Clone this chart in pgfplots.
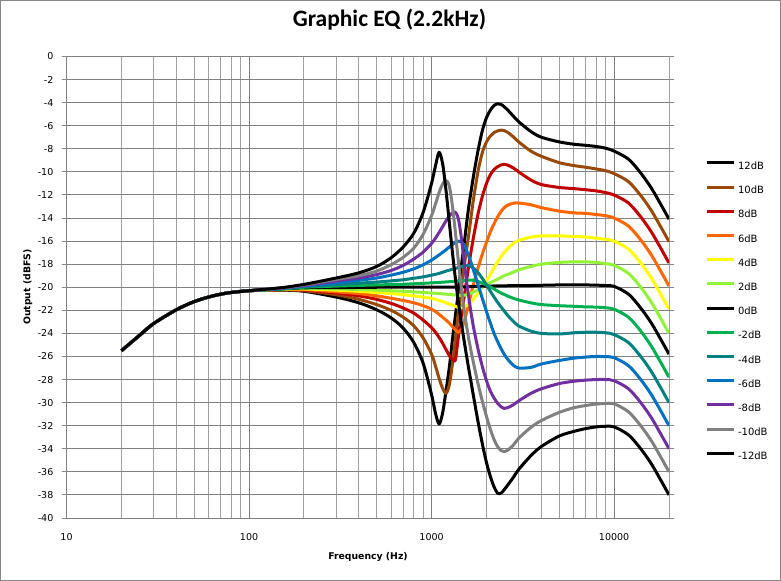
\documentclass[border=0pt]{standalone}
\usepackage{fontspec}
\setmainfont{DejaVu Sans}
\newfontfamily\titlefont{Carlito}
\usepackage{pgfplots}
\usepackage{pgfplotstable}
\pgfplotsset{compat=1.18}
\definecolor{framegray}{RGB}{134,134,134}
\definecolor{gridmajor}{RGB}{128,128,128}
\definecolor{gridminor}{RGB}{160,160,160}
\definecolor{cbrown}{HTML}{984807}
\definecolor{cred}{HTML}{C00000}
\definecolor{corange}{HTML}{FF6600}
\definecolor{cyellow}{HTML}{FFFF00}
\definecolor{clime}{RGB}{146,242,55}
\definecolor{cgreen}{HTML}{00B050}
\definecolor{cteal}{HTML}{008080}
\definecolor{cblue}{HTML}{0070C0}
\definecolor{cpurple}{HTML}{7030A0}
\definecolor{cgray}{HTML}{808080}
\pgfplotstableread{
f p12 p10 p8 p6 p4 p2 z0 m2 m4 m6 m8 m10 m12
20 -25.5 -25.5 -25.5 -25.5 -25.5 -25.5 -25.5 -25.5 -25.5 -25.5 -25.5 -25.5 -25.5
25 -24.2 -24.2 -24.2 -24.2 -24.2 -24.2 -24.2 -24.2 -24.2 -24.2 -24.2 -24.2 -24.2
30 -23.15 -23.15 -23.15 -23.15 -23.15 -23.15 -23.15 -23.15 -23.15 -23.15 -23.15 -23.15 -23.15
40 -21.95 -21.95 -21.95 -21.95 -21.95 -21.95 -21.95 -21.95 -21.95 -21.95 -21.95 -21.95 -21.95
50 -21.25 -21.25 -21.25 -21.25 -21.25 -21.25 -21.25 -21.25 -21.25 -21.25 -21.25 -21.25 -21.25
60 -20.85 -20.85 -20.85 -20.85 -20.85 -20.85 -20.85 -20.85 -20.85 -20.85 -20.85 -20.85 -20.85
70 -20.6 -20.6 -20.6 -20.6 -20.6 -20.6 -20.6 -20.6 -20.6 -20.6 -20.6 -20.6 -20.6
80 -20.45 -20.45 -20.45 -20.45 -20.45 -20.45 -20.45 -20.45 -20.45 -20.45 -20.45 -20.45 -20.45
100 -20.3 -20.3 -20.3 -20.3 -20.3 -20.3 -20.3 -20.3 -20.3 -20.3 -20.3 -20.3 -20.3
150 -20.25 -20.23 -20.21 -20.19 -20.17 -20.16 -20.15 -20.14 -20.12 -20.10 -20.08 -20.06 -20.04
200 -20.35 -20.30 -20.25 -20.20 -20.15 -20.10 -20.05 -20.00 -19.95 -19.90 -19.85 -19.80 -19.75
300 -20.85 -20.65 -20.50 -20.40 -20.25 -20.15 -20.03 -19.90 -19.78 -19.62 -19.46 -19.32 -19.20
400 -21.35 -21.05 -20.75 -20.55 -20.35 -20.20 -20.02 -19.84 -19.65 -19.40 -19.20 -19.00 -18.75
500 -21.95 -21.50 -21.05 -20.75 -20.45 -20.25 -20.00 -19.80 -19.55 -19.20 -18.90 -18.60 -18.20
600 -22.65 -22.00 -21.40 -20.95 -20.55 -20.30 -20.00 -19.77 -19.45 -18.95 -18.55 -18.05 -17.45
700 -23.55 -22.60 -21.80 -21.15 -20.65 -20.35 -20.00 -19.74 -19.35 -18.70 -18.10 -17.40 -16.50
800 -24.80 -23.35 -22.25 -21.35 -20.75 -20.40 -20.00 -19.70 -19.22 -18.40 -17.55 -16.60 -15.30
900 -26.60 -24.40 -22.85 -21.60 -20.85 -20.45 -20.00 -19.66 -19.10 -18.05 -16.95 -15.40 -13.50
1000 -29.30 -25.80 -23.50 -21.90 -20.95 -20.50 -20.00 -19.62 -18.95 -17.65 -16.20 -13.80 -11.00
1050 -30.90 -26.80 -23.90 -22.10 -21.05 -20.52 -20.00 -19.60 -18.88 -17.42 -15.75 -12.80 -9.50
1100 -31.85 -27.90 -24.35 -22.35 -21.15 -20.55 -20.00 -19.58 -18.80 -17.20 -15.25 -11.80 -8.30
1150 -30.90 -28.75 -24.85 -22.60 -21.25 -20.57 -20.00 -19.56 -18.70 -16.97 -14.75 -11.05 -9.30
1200 -29.00 -29.20 -25.40 -22.85 -21.35 -20.60 -20.00 -19.54 -18.60 -16.75 -14.25 -10.75 -11.60
1250 -27.00 -28.50 -25.90 -23.10 -21.45 -20.62 -20.00 -19.52 -18.52 -16.52 -13.85 -11.20 -14.30
1300 -24.60 -26.70 -26.25 -23.40 -21.55 -20.65 -20.00 -19.50 -18.45 -16.30 -13.55 -12.90 -16.90
1350 -22.50 -24.50 -26.30 -23.70 -21.65 -20.67 -20.00 -19.47 -18.37 -16.10 -13.50 -15.20 -19.20
1400 -20.50 -22.30 -24.40 -23.90 -21.75 -20.70 -20.00 -19.45 -18.30 -16.00 -14.00 -17.60 -21.20
1450 -18.40 -20.30 -22.70 -23.70 -21.80 -20.70 -20.00 -19.42 -18.22 -16.05 -15.50 -19.80 -22.90
1500 -16.60 -18.50 -21.10 -23.10 -21.75 -20.70 -19.97 -19.40 -18.15 -16.30 -17.40 -21.70 -24.40
1550 -14.70 -16.90 -19.60 -22.30 -21.60 -20.65 -19.96 -19.39 -18.10 -16.75 -19.30 -23.20 -25.80
1600 -13.00 -15.40 -18.10 -21.40 -21.45 -20.60 -19.95 -19.38 -18.12 -17.30 -20.90 -24.50 -27.10
1650 -11.60 -13.80 -16.80 -20.50 -21.25 -20.50 -19.94 -19.38 -18.20 -17.90 -22.30 -25.60 -28.30
1700 -10.30 -12.30 -15.60 -19.70 -21.00 -20.40 -19.93 -19.40 -18.35 -18.55 -23.50 -26.60 -29.50
1800 -8.10 -9.90 -13.60 -18.30 -20.50 -20.20 -19.92 -19.50 -18.75 -19.80 -25.40 -28.40 -31.70
1900 -6.40 -8.30 -12.10 -17.10 -19.90 -19.95 -19.91 -19.65 -19.25 -21.00 -26.90 -29.90 -33.60
2000 -5.30 -7.40 -11.00 -16.10 -19.40 -19.75 -19.90 -19.80 -19.80 -22.10 -28.10 -31.20 -35.20
2100 -4.65 -6.90 -10.25 -15.20 -18.90 -19.60 -19.90 -19.98 -20.35 -23.10 -29.00 -32.30 -36.40
2200 -4.25 -6.60 -9.80 -14.50 -18.30 -19.45 -19.89 -20.15 -20.85 -24.00 -29.60 -33.20 -37.30
2300 -4.10 -6.45 -9.55 -13.90 -17.80 -19.30 -19.89 -20.33 -21.30 -24.70 -30.05 -33.80 -37.85
2400 -4.15 -6.38 -9.40 -13.45 -17.35 -19.15 -19.88 -20.50 -21.70 -25.30 -30.35 -34.15 -37.85
2500 -4.35 -6.42 -9.35 -13.10 -17.00 -19.00 -19.88 -20.62 -22.05 -25.80 -30.50 -34.25 -37.55
2600 -4.60 -6.55 -9.40 -12.90 -16.70 -18.90 -19.87 -20.75 -22.40 -26.20 -30.45 -34.15 -37.20
2800 -5.15 -6.95 -9.65 -12.72 -16.20 -18.70 -19.87 -20.95 -22.95 -26.75 -30.20 -33.70 -36.50
3000 -5.65 -7.40 -10.00 -12.70 -15.95 -18.50 -19.86 -21.10 -23.35 -27.00 -29.85 -33.10 -35.80
3500 -6.50 -8.20 -10.70 -12.85 -15.65 -18.20 -19.85 -21.35 -23.80 -26.95 -29.20 -32.15 -34.60
4000 -7.00 -8.65 -11.10 -13.10 -15.55 -18.00 -19.83 -21.50 -24.00 -26.65 -28.80 -31.55 -33.80
5000 -7.40 -9.20 -11.35 -13.40 -15.55 -17.85 -19.80 -21.60 -24.05 -26.35 -28.35 -30.85 -32.90
6000 -7.60 -9.45 -11.45 -13.55 -15.60 -17.80 -19.80 -21.65 -23.95 -26.15 -28.15 -30.45 -32.50
7000 -7.70 -9.60 -11.55 -13.60 -15.65 -17.80 -19.80 -21.70 -23.90 -26.05 -28.05 -30.25 -32.25
8000 -7.80 -9.75 -11.65 -13.70 -15.75 -17.85 -19.82 -21.72 -23.90 -26.00 -28.00 -30.12 -32.10
9000 -7.95 -9.90 -11.80 -13.80 -15.85 -17.95 -19.85 -21.78 -23.95 -26.02 -28.00 -30.08 -32.05
10000 -8.20 -10.15 -12.00 -14.00 -16.00 -18.10 -19.92 -21.90 -24.10 -26.10 -28.10 -30.10 -32.10
12000 -8.90 -10.85 -12.70 -14.70 -16.70 -18.80 -20.60 -22.60 -24.80 -26.80 -28.80 -30.80 -32.80
14000 -10.10 -12.05 -13.90 -15.90 -17.90 -20.00 -21.80 -23.80 -26.00 -28.00 -30.00 -32.00 -34.00
16000 -11.40 -13.35 -15.20 -17.20 -19.20 -21.30 -23.10 -25.10 -27.30 -29.30 -31.30 -33.30 -35.30
18000 -12.80 -14.75 -16.60 -18.60 -20.60 -22.70 -24.50 -26.50 -28.70 -30.70 -32.70 -34.70 -36.70
20000 -14.10 -16.05 -17.90 -19.90 -21.90 -24.00 -25.80 -27.80 -30.00 -32.00 -34.00 -36.00 -38.00
}\eqdata
\begin{document}
\begin{tikzpicture}
\useasboundingbox (0,0) rectangle (781bp,581bp);
\fill[white] (0,0) rectangle (781bp,581bp);
\draw[framegray, line width=1bp] (0.5bp,0.5bp) rectangle (780.5bp,580.5bp);
\begin{axis}[
  at={(66.5bp,63bp)}, anchor=south west,
  scale only axis, width=602.5bp, height=461.5bp,
  xmode=log, log basis x=10,
  xmin=10, xmax=20000, ymin=-40, ymax=0,
  xtick={10,100,1000,10000}, xticklabels={10,100,1000,10000},
  minor xtick={20,30,40,50,60,70,80,90,200,300,400,500,600,700,800,900,2000,3000,4000,5000,6000,7000,8000,9000,20000},
  ytick={-40,-38,...,0},
  xmajorgrids=true, xminorgrids=true, ymajorgrids=true,
  major grid style={draw=gridmajor, line width=1bp},
  minor grid style={draw=gridminor, line width=1bp},
  axis line style={draw=none},
  tick align=outside, major tick length=5bp, minor tick length=0pt,
  xtick style={draw=none},
  ytick style={draw=framegray, line width=1bp},
  /pgf/number format/assume math mode=true,
  tick label style={font=\fontsize{9.5bp}{11bp}\selectfont, inner sep=0pt},
  xticklabel style={anchor=base, yshift=-17bp},
  yticklabel style={anchor=east, xshift=-8bp},
  title={Graphic EQ (2.2kHz)},
  title style={at={(axis description cs:0.536,1.0516)}, anchor=base, inner sep=0pt, font=\titlefont\bfseries\fontsize{23.5bp}{26bp}\selectfont},
  xlabel={Frequency (Hz)},
  xlabel style={at={(axis description cs:0.5004,-0.0910)}, anchor=base, inner sep=0pt, font=\bfseries\fontsize{9.3bp}{11bp}\selectfont},
  ylabel={Output (dBFS)},
  ylabel style={at={(axis description cs:-0.0601,0.5005)}, anchor=base, inner sep=0pt, font=\bfseries\fontsize{9.3bp}{11bp}\selectfont},
  every axis plot/.append style={line width=3bp, smooth, tension=0.5, line join=round},
  legend image code/.code={\draw[#1, line width=3bp] (0bp,3.6bp) -- (27bp,3.6bp);},
  legend cell align=left,
  legend style={at={(axis description cs:1.0598,0.7729)}, anchor=north west, draw=none, fill=none, inner sep=0pt, outer sep=0pt, row sep=14.1bp, column sep=3bp, font=\fontsize{10bp}{12bp}\selectfont, nodes={inner sep=0pt, text height=8bp, text depth=2bp}},
]
\addplot[black] table[x=f, y=p12] {\eqdata}; \addlegendentry{12dB}
\addplot[cbrown] table[x=f, y=p10] {\eqdata}; \addlegendentry{10dB}
\addplot[cred] table[x=f, y=p8] {\eqdata}; \addlegendentry{8dB}
\addplot[corange] table[x=f, y=p6] {\eqdata}; \addlegendentry{6dB}
\addplot[cyellow] table[x=f, y=p4] {\eqdata}; \addlegendentry{4dB}
\addplot[clime] table[x=f, y=p2] {\eqdata}; \addlegendentry{2dB}
\addplot[black] table[x=f, y=z0] {\eqdata}; \addlegendentry{0dB}
\addplot[cgreen] table[x=f, y=m2] {\eqdata}; \addlegendentry{-2dB}
\addplot[cteal] table[x=f, y=m4] {\eqdata}; \addlegendentry{-4dB}
\addplot[cblue] table[x=f, y=m6] {\eqdata}; \addlegendentry{-6dB}
\addplot[cpurple] table[x=f, y=m8] {\eqdata}; \addlegendentry{-8dB}
\addplot[cgray] table[x=f, y=m10] {\eqdata}; \addlegendentry{-10dB}
\addplot[black] table[x=f, y=m12] {\eqdata}; \addlegendentry{-12dB}
\end{axis}
\end{tikzpicture}
\end{document}
